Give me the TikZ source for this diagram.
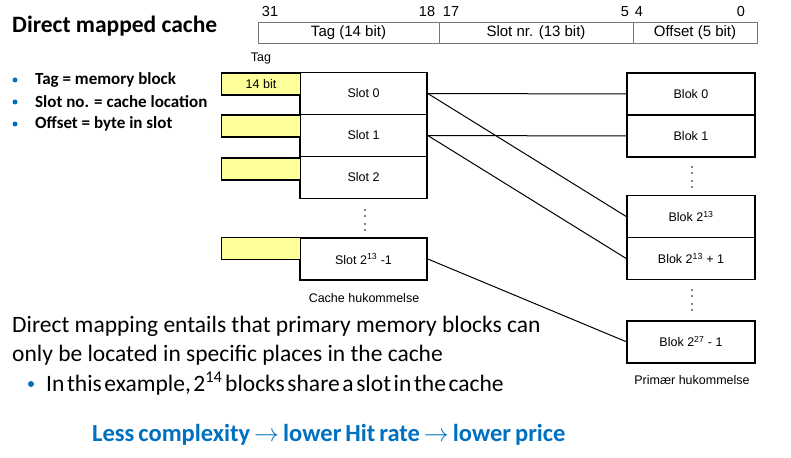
\documentclass[tikz,border=0pt]{standalone}
\usepackage{fontspec}
\setmainfont{Carlito}
\newfontfamily\arial{Liberation Sans}
\definecolor{tagyellow}{RGB}{255,255,153}
\definecolor{bulletblue}{RGB}{0,112,192}
\definecolor{fieldgray}{RGB}{120,120,120}
\begin{document}
\begin{tikzpicture}[x=1pt,y=-1pt,
  field/.style={draw=fieldgray,line width=0.9pt,minimum height=21pt,inner sep=0pt,font=\arial\fontsize{15}{15}\selectfont},
  bitnum/.style={font=\arial\fontsize{14.5}{14.5}\selectfont,inner sep=0pt},
  tagbox/.style={draw,fill=tagyellow,line width=1.6pt,minimum width=79pt,minimum height=22pt,inner sep=0pt,font=\arial\fontsize{12.5}{12.5}\selectfont},
  slotbox/.style={draw,fill=white,line width=1.6pt,minimum width=127pt,minimum height=42pt,inner sep=0pt,font=\arial\fontsize{12.5}{12.5}\selectfont},
  blokbox/.style={draw,fill=white,line width=1.6pt,minimum width=128pt,minimum height=42pt,inner sep=0pt,font=\arial\fontsize{12.5}{12.5}\selectfont},
  smalllabel/.style={font=\arial\fontsize{12.5}{12.5}\selectfont,inner sep=0pt},
  conn/.style={line width=1pt},
  vdot/.style={circle,fill=black,inner sep=0pt,minimum size=1.8pt},
  bdot/.style={circle,fill=bulletblue,inner sep=0pt},
  bigtext/.style={font=\fontsize{23.5}{23.5}\selectfont,inner sep=0pt,anchor=west},
  listtext/.style={font=\bfseries\fontsize{17}{17}\selectfont,anchor=west,inner sep=0pt}
]
\useasboundingbox (0,0) rectangle (791,457);
\fill[white] (0,0) rectangle (791,457);

% title and bullets
\node[font=\bfseries\fontsize{23.5}{23.5}\selectfont,anchor=west,inner sep=0pt] (title) at (12,26) {Direct mapped cache};
\node[bdot,minimum size=5pt] (b1) at (15,80) {};
\node[bdot,minimum size=5pt] (b2) at (15,102) {};
\node[bdot,minimum size=5pt] (b3) at (15,124) {};
\node[listtext] (l1) at (35,80) {Tag = memory block};
\node[listtext] (l2) at (35,102) {Slot no. = cache location};
\node[listtext] (l3) at (35,124) {Offset = byte in slot};

% bit field
\node[field,minimum width=181pt] (ftag) at (348.5,33) {Tag (14 bit)};
\node[field,minimum width=194pt] (fslot) at (536,33) {Slot nr. (13 bit)};
\node[field,minimum width=124pt] (foff) at (695,33) {Offset (5 bit)};
\node[bitnum] (n31) at (270,12) {31};
\node[bitnum] (n18) at (427,12) {18};
\node[bitnum] (n17) at (451,12) {17};
\node[bitnum] (n5) at (625,12) {5};
\node[bitnum] (n4) at (639,12) {4};
\node[bitnum] (n0) at (741,12) {0};

% cache
\node[smalllabel] (taglbl) at (261,58) {Tag};
\node[slotbox] (s0) at (363.5,93.5) {Slot 0};
\node[slotbox] (s1) at (363.5,135.5) {Slot 1};
\node[slotbox] (s2) at (363.5,177.5) {Slot 2};
\node[slotbox] (sn) at (363.5,259) {Slot 2\textsuperscript{13} -1};
\node[tagbox] (t0) at (261,83.8) {14 bit};
\node[tagbox] (t1) at (261,126) {};
\node[tagbox] (t2) at (261,168.8) {};
\node[tagbox] (tn) at (261,248.5) {};
\node[vdot] (cd1) at (365,210) {};
\node[vdot] (cd2) at (365,216) {};
\node[vdot] (cd3) at (365,224) {};
\node[vdot] (cd4) at (365,230) {};
\node[smalllabel] (cachelbl) at (364,298) {Cache hukommelse};

% main memory
\node[blokbox] (m0) at (691,94) {Blok 0};
\node[blokbox] (m1) at (691,136) {Blok 1};
\node[blokbox] (m2) at (691,216.5) {Blok 2\textsuperscript{13}};
\node[blokbox] (m3) at (691,258.5) {Blok 2\textsuperscript{13} + 1};
\node[blokbox] (mn) at (691,341.7) {Blok 2\textsuperscript{27} - 1};
\node[vdot] (md1) at (692,167) {};
\node[vdot] (md2) at (692,173) {};
\node[vdot] (md3) at (692,181) {};
\node[vdot] (md4) at (692,187) {};
\node[vdot] (md5) at (692,290) {};
\node[vdot] (md6) at (692,296) {};
\node[vdot] (md7) at (692,304) {};
\node[vdot] (md8) at (692,310) {};
\node[smalllabel] (memlbl) at (692,380) {Primær hukommelse};

% connections
\draw[conn] (s0.east) -- (m0.west);
\draw[conn] (s0.east) -- (m2.west);
\draw[conn] (s1.east) -- (m1.west);
\draw[conn] (s1.east) -- (m3.west);
\draw[conn] (sn.east) -- (mn.west);

% bottom text
\node[bigtext] (p1) at (12,326) {Direct mapping entails that primary memory blocks can};
\node[bigtext] (p2) at (12,355) {only be located in specific places in the cache};
\node[bdot,minimum size=6pt] (b4) at (31,384) {};
\node[bigtext] (p3) at (46,384) {\spaceskip=2.6pt\relax In this example, 2\textsuperscript{14} blocks share a slot in the cache};
\node[font=\bfseries\fontsize{24.5}{24.5}\selectfont,text=bulletblue,anchor=west,inner sep=0pt] (summary) at (92,435) {\spaceskip=4pt\relax Less complexity\,$\rightarrow$\,lower Hit rate $\rightarrow$ lower price};
\end{tikzpicture}
\end{document}
